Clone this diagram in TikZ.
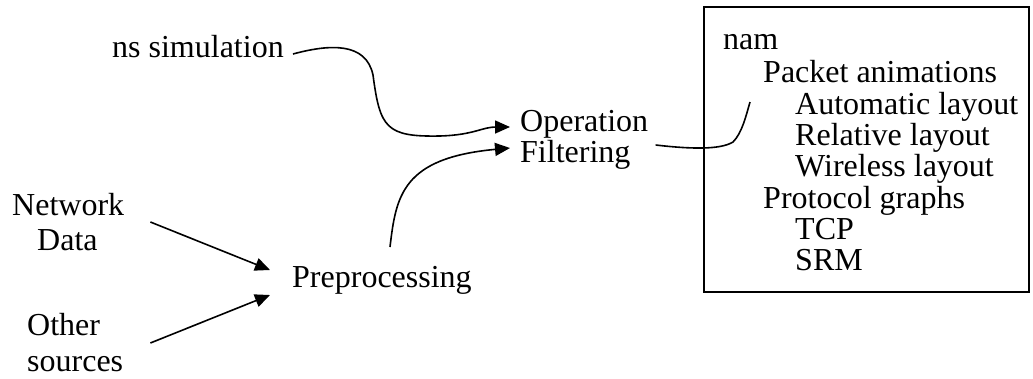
\documentclass[tikz,border=0pt]{standalone}
\usepackage{fontspec}
\setmainfont{Liberation Serif}
\usetikzlibrary{arrows.meta,calc}
\begin{document}
\begin{tikzpicture}[x=1pt,y=-1pt,
  lbl/.style={inner sep=0pt,anchor=mid west,font=\fontsize{32}{32}\selectfont},
  conn/.style={line width=1.6pt},
  arr/.style={conn,-{Triangle[length=15pt,width=13pt]}}]
\useasboundingbox (0,0) rectangle (1033,378);

% sources and stages
\node[lbl] (ns) at (112,55.5) {ns simulation};
\node[lbl] (op) at (520,129) {Operation};
\node[lbl] (filt) at (520,160) {Filtering};
\node[lbl] (net) at (12,213) {Network};
\node[lbl] (data) at (37,248) {Data};
\node[lbl] (oth) at (27,333) {Other};
\node[lbl] (src) at (27,369) {sources};
\node[lbl] (pre) at (292,285) {Preprocessing};

% nam feature box
\node[draw,line width=1.6pt,minimum width=325pt,minimum height=285pt,
      inner sep=0pt,anchor=north west] (box) at (703,6) {};
\node[lbl] (nam) at (723,47) {nam};
\node[lbl] (pkt) at (763,80) {Packet animations};
\node[lbl] (auto) at (795,112) {Automatic layout};
\node[lbl] (rel) at (795,143) {Relative layout};
\node[lbl] (wl) at (795,174) {Wireless layout};
\node[lbl] (proto) at (763,206) {Protocol graphs};
\node[lbl] (tcp) at (795,237) {TCP};
\node[lbl] (srm) at (795,268) {SRM};

% connectors
\draw[arr] ($(ns.mid east)+(9,-1.5)$)
  .. controls (330,44) and (366,42) .. (373,75)
  .. controls (380,128) and (386,137) .. (440,136)
  .. controls (474,135) and (482,127) .. (496,127)
  -- ($(op.mid west)+(-10,-2)$);
\draw[arr] ($(pre.mid west)+(98,-38)$)
  .. controls (396,196) and (402,158) .. ($(filt.mid west)+(-10,-12)$);
\draw[arr] ($(net.mid east)+(26,9)$) -- ($(pre.mid west)+(-22,-15)$);
\draw[arr] ($(src.mid east)+(27,-26)$) -- ($(pre.mid west)+(-22,10)$);
\coordinate (boxin) at (750,102);
\draw[conn] ($(filt.mid east)+(25,-15)$)
  .. controls (690,149) and (720,150) .. (733,142)
  .. controls (742,133) and (746,116) .. (boxin);
\end{tikzpicture}
\end{document}
